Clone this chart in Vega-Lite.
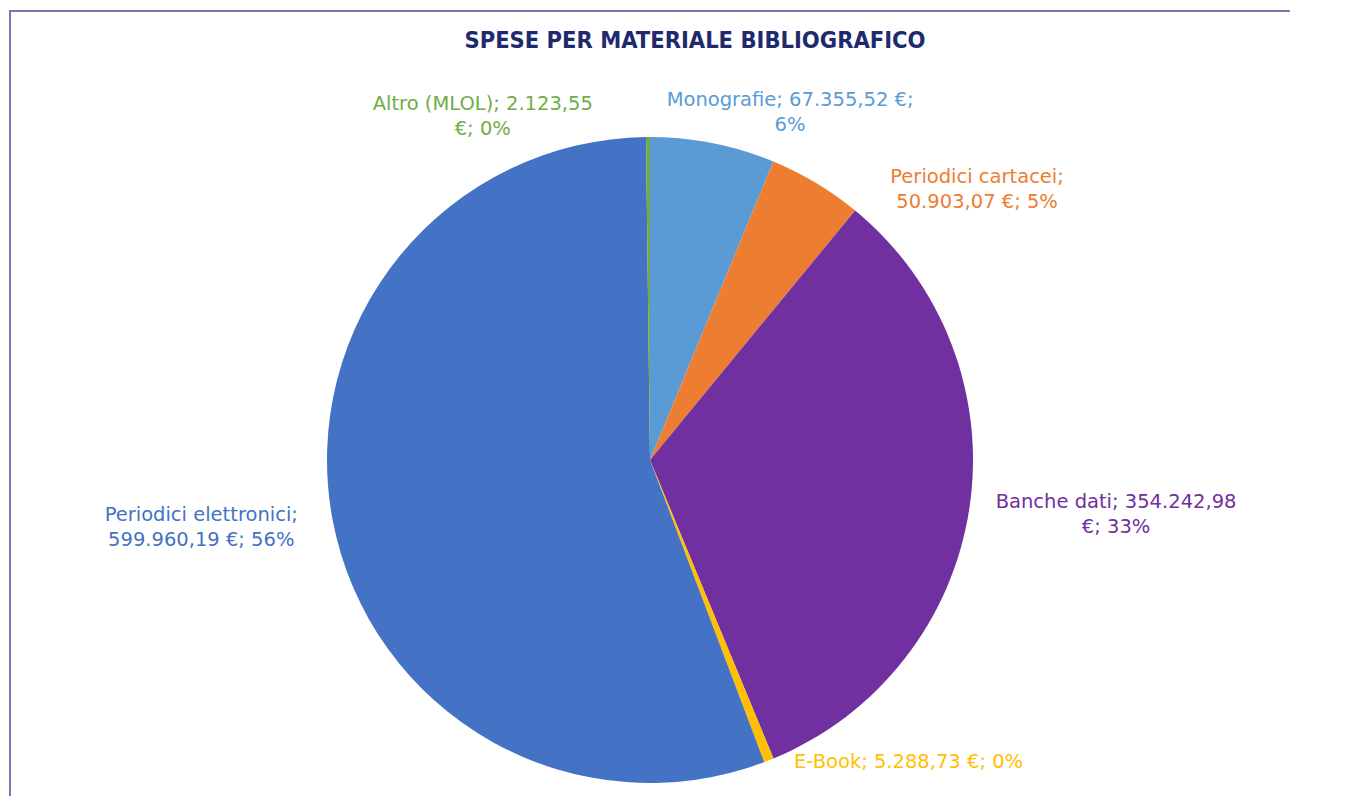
{
  "$schema": "https://vega.github.io/schema/vega-lite/v6.json",
  "autosize": "none",
  "width": 1280,
  "height": 898,
  "padding": {"left": 10, "top": 11, "right": 0, "bottom": 0},
  "background": "white",
  "view": {"stroke": "#7479AE", "strokeWidth": 2, "strokeDash": [1280, 2178, 898, 10]},
  "title": {
    "text": "SPESE PER MATERIALE BIBLIOGRAFICO",
    "font": "DejaVu Sans Condensed, DejaVu Sans",
    "fontSize": 23.5,
    "fontWeight": "bold",
    "color": "#1F2A6E",
    "anchor": "middle",
    "baseline": "alphabetic",
    "offset": 0,
    "dx": 45,
    "dy": 60
  },
  "config": {
    "text": {"font": "DejaVu Sans", "fontSize": 19.5, "lineHeight": 25, "lineBreak": "|", "align": "center", "baseline": "middle"}
  },
  "data": {
    "values": [
      {"cat": "Monografie", "value": 67355.52, "ord": 1, "label": "Monografie; 67.355,52 €;|6%"},
      {"cat": "Periodici cartacei", "value": 50903.07, "ord": 2, "label": "Periodici cartacei;|50.903,07 €; 5%"},
      {"cat": "Banche dati", "value": 354242.98, "ord": 3, "label": "Banche dati; 354.242,98|€; 33%"},
      {"cat": "E-Book", "value": 5288.73, "ord": 4, "label": "E-Book; 5.288,73 €; 0%"},
      {"cat": "Periodici elettronici", "value": 599960.19, "ord": 5, "label": "Periodici elettronici;|599.960,19 €; 56%"},
      {"cat": "Altro (MLOL)", "value": 2123.55, "ord": 6, "label": "Altro (MLOL); 2.123,55|€; 0%"}
    ]
  },
  "encoding": {
    "theta": {"field": "value", "type": "quantitative", "stack": true},
    "order": {"field": "ord", "type": "quantitative"},
    "color": {
      "field": "cat",
      "type": "nominal",
      "legend": null,
      "scale": {
        "domain": ["Monografie", "Periodici cartacei", "Banche dati", "E-Book", "Periodici elettronici", "Altro (MLOL)"],
        "range": ["#5B9BD5", "#ED7D31", "#7030A0", "#FFC000", "#4472C4", "#70AD47"]
      }
    }
  },
  "layer": [
    {"mark": {"type": "arc", "outerRadius": 323}},
    {
      "mark": {
        "type": "text",
        "radius": 360,
        "dx": {"expr": "datum.ord == 1 ? 70 : datum.ord == 2 ? 142 : datum.ord == 3 ? 110 : datum.ord == 4 ? 126 : datum.ord == 5 ? -95 : -165"},
        "dy": {"expr": "datum.ord == 1 ? -7 : datum.ord == 2 ? 26 : datum.ord == 3 ? -11 : datum.ord == 4 ? -33 : datum.ord == 5 ? -12 : 4"}
      },
      "encoding": {"text": {"field": "label"}}
    }
  ]
}
